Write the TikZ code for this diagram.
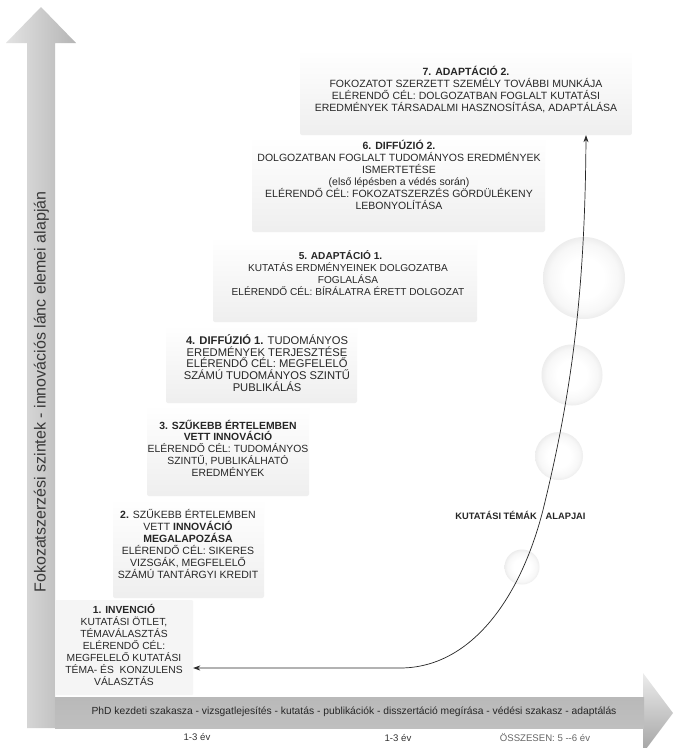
\documentclass[tikz,border=0pt]{standalone}
\usepackage{fontspec}
\setmainfont{Liberation Sans}
\usetikzlibrary{arrows.meta}
\pgfdeclareradialshading{bubshade}{\pgfpoint{0bp}{0bp}}{color(0bp)=(white); color(12bp)=(white); color(21bp)=(black!3); color(25bp)=(black!7); color(50bp)=(black!7)}
\begin{document}
\begin{tikzpicture}[x=1pt,y=-1pt,
  boxbg/.style={rounded corners=2pt, top color=white, bottom color=gray!13, draw=none, inner sep=0pt},
  boxtxt/.style={align=center, font=\fontsize{10.4}{11.8}\selectfont, text=black!85, inner sep=0pt},
  bubble/.style={shading=bubshade},
  conn/.style={draw=black!85, line width=0.7pt, {Stealth[length=7pt,width=5pt]}-{Stealth[length=7pt,width=5pt]}},
  bandtxt/.style={font=\fontsize{10.3}{12}\selectfont, text=black!85, inner sep=0pt},
  yeartxt/.style={font=\fontsize{9.6}{11}\selectfont, text=black!80, inner sep=0pt}
]
\useasboundingbox (0,0) rectangle (673,748);
\fill[white] (0,0) rectangle (673,748);

% bubbles
\shade[bubble] (584,278) circle (41);
\shade[bubble] (572,375) circle (30.5);
\shade[bubble] (559,456) circle (24);
\shade[bubble] (522,567) circle (17.5);

% vertical arrow
\shade[left color=gray!22, right color=gray!58] (27,728) -- (27,43) -- (6,43) -- (41,7) -- (76,43) -- (55,43) -- (55,728) -- cycle;
\node[rotate=90, font=\fontsize{16}{18}\selectfont, text=black!78, inner sep=0pt] (ylab) at (41.5,392) {Fokozatszerzési szintek - innovációs lánc elemei alapján};

% horizontal arrow
\shade[top color=gray!15, bottom color=gray!72] (643,697) -- (643,673) -- (673,713) -- (643,753) -- (643,728) -- cycle;
\shade[top color=gray!55, middle color=gray!33, bottom color=gray!50] (55,697) rectangle (644,728);
\node[bandtxt] (xlab) at (354,712) {PhD kezdeti szakasza - vizsgatlejesítés - kutatás - publikációk - disszertáció megírása - védési szakasz - adaptálás};

\node[yeartxt] (y1) at (197,737) {1-3 év};
\node[yeartxt] (y2) at (398,738) {1-3 év};
\node[yeartxt, text=black!60] (y3) at (545,738) {ÖSSZESEN: 5 -{}-6 év};

% boxes
\node[boxbg, minimum width=332pt, minimum height=85pt] (b7) at (466,92.5) {};
\node[boxbg, minimum width=293pt, minimum height=95pt] (b6) at (398.5,184.5) {};
\node[boxbg, minimum width=264pt, minimum height=85pt] (b5) at (345,279.5) {};
\node[boxbg, minimum width=191pt, minimum height=78pt] (b4) at (261.5,364) {};
\node[boxbg, minimum width=162pt, minimum height=91pt] (b3) at (228,450.5) {};
\node[boxbg, minimum width=151pt, minimum height=100pt] (b2) at (188.5,548) {};
\node[rounded corners=1pt, fill=gray!8, inner sep=0pt, minimum width=138pt, minimum height=95pt] (b1) at (124,647.5) {};

\node[boxtxt, font=\fontsize{10.5}{11.8}\selectfont] (t7) at (466,89.5) {\textbf{7. ADAPTÁCIÓ 2.}\\FOKOZATOT SZERZETT SZEMÉLY TOVÁBBI MUNKÁJA\\ELÉRENDŐ CÉL: DOLGOZATBAN FOGLALT KUTATÁSI\\EREDMÉNYEK TÁRSADALMI HASZNOSÍTÁSA, ADAPTÁLÁSA};
\node[boxtxt, font=\fontsize{10.5}{12.1}\selectfont] (t6) at (399,175) {\textbf{6. DIFFÚZIÓ 2.}\\DOLGOZATBAN FOGLALT TUDOMÁNYOS EREDMÉNYEK\\ISMERTETÉSE\\(első lépésben a védés során)\\ELÉRENDŐ CÉL: FOKOZATSZERZÉS GÖRDÜLÉKENY\\LEBONYOLÍTÁSA};
\node[boxtxt, font=\fontsize{10.1}{11.8}\selectfont] (t5) at (348,273) {\textbf{5. ADAPTÁCIÓ 1.}\hspace*{15pt}\\KUTATÁS ERDMÉNYEINEK DOLGOZATBA\\FOGLALÁSA\\ELÉRENDŐ CÉL: BÍRÁLATRA ÉRETT DOLGOZAT};
\node[boxtxt, font=\fontsize{11.2}{11.8}\selectfont] (t4) at (267,363) {\textbf{4. DIFFÚZIÓ 1.} TUDOMÁNYOS\\EREDMÉNYEK TERJESZTÉSE\\ELÉRENDŐ CÉL: MEGFELELŐ\\SZÁMÚ TUDOMÁNYOS SZINTŰ\\PUBLIKÁLÁS};
\node[boxtxt] (t3) at (228,448) {\textbf{3. SZŰKEBB ÉRTELEMBEN}\\\textbf{VETT INNOVÁCIÓ}\\ELÉRENDŐ CÉL: TUDOMÁNYOS\\SZINTŰ, PUBLIKÁLHATÓ\\EREDMÉNYEK};
\node[boxtxt, font=\fontsize{10.5}{12}\selectfont] (t2) at (188,544) {\textbf{2.} SZŰKEBB ÉRTELEMBEN\\VETT \textbf{INNOVÁCIÓ}\\\textbf{MEGALAPOZÁSA}\\ELÉRENDŐ CÉL: SIKERES\\VIZSGÁK, MEGFELELŐ\\SZÁMÚ TANTÁRGYI KREDIT};
\node[boxtxt, font=\fontsize{10.3}{11.9}\selectfont] (t1) at (124,645) {\textbf{1. INVENCIÓ}\\KUTATÁSI ÖTLET,\\TÉMAVÁLASZTÁS\\ELÉRENDŐ CÉL:\\MEGFELELŐ KUTATÁSI\\TÉMA- ÉS \ KONZULENS\\VÁLASZTÁS};

% connector
\coordinate (c1) at (b1.east |- 0,668);
\coordinate (c7) at (b7.south -| 586,0);
\draw[conn] (c1) -- (400,668) .. controls (470,668) and (520,600) .. (543,510) .. controls (570,400) and (585,300) .. (c7);
\node[font=\bfseries\fontsize{9.3}{11}\selectfont, text=black!85, inner sep=0pt] (lab) at (520.5,515) {KUTATÁSI TÉMÁK\hspace{9pt}ALAPJAI};
\end{tikzpicture}
\end{document}
